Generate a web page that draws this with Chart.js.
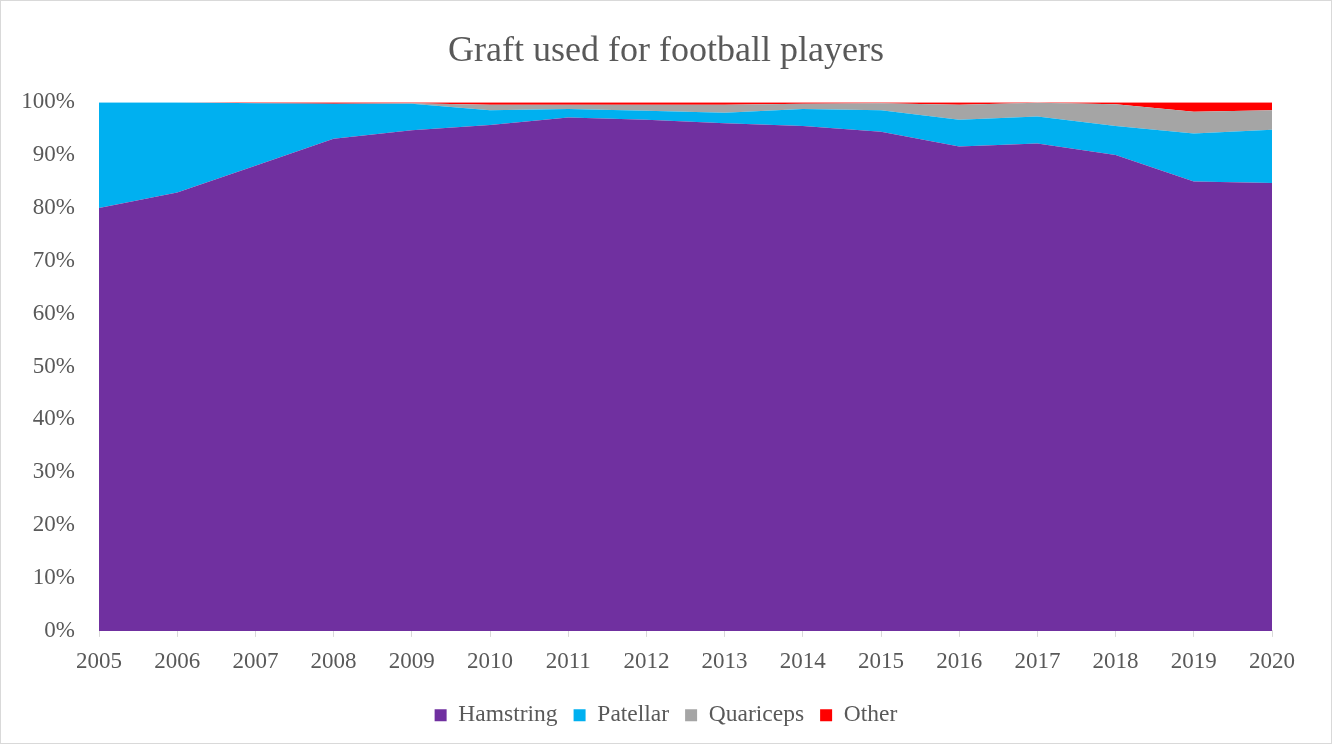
<!DOCTYPE html>
<html>
<head>
<meta charset="utf-8">
<script src="https://cdn.jsdelivr.net/npm/chart.js@4.4.1/dist/chart.umd.min.js"></script>
<style>
  html, body { margin: 0; padding: 0; background: #fff; }
  #wrap {
    position: absolute; left: 0; top: 0;
    width: 1330px; height: 742px;
    border: 1px solid #d9d9d9;
  }
</style>
</head>
<body>
<div id="wrap"><canvas id="chart"></canvas></div>
<script>
// Graft share per year (percent of total)
const years = ["2005", "2006", "2007", "2008", "2009", "2010", "2011", "2012",
               "2013", "2014", "2015", "2016", "2017", "2018", "2019", "2020"];
const hamstring  = [80.0, 82.9, 88.0, 93.1, 94.7, 95.7, 97.1, 96.7, 96.0, 95.5, 94.4, 91.6, 92.2, 90.0, 85.0, 84.7];
const patellar   = [20.0, 17.1, 11.8,  6.6,  5.0,  2.8,  1.6,  1.7,  2.0,  3.2,  4.1,  5.1,  5.1,  5.5,  9.1, 10.1];
const quariceps  = [ 0.0,  0.0,  0.0,  0.0,  0.1,  1.0,  0.8,  1.1,  1.5,  1.0,  1.3,  2.8,  2.6,  4.1,  4.1,  3.7];
const other      = [ 0.0,  0.0,  0.2,  0.3,  0.2,  0.5,  0.5,  0.5,  0.5,  0.3,  0.2,  0.5,  0.1,  0.4,  1.8,  1.5];

const TEXT = "#595959";
const FONT = "'Liberation Serif', 'Times New Roman', serif";

function area(label, data, color, fill) {
    return {
        label: label,
        data: data,
        backgroundColor: color,
        borderColor: color,
        borderWidth: 0,
        pointRadius: 0,
        pointHoverRadius: 0,
        tension: 0,
        fill: fill,
    };
}

new Chart(document.getElementById("chart"), {
    type: "line",
    data: {
        labels: years,
        datasets: [
            area("Hamstring", hamstring, "#7030a0", "origin"),
            area("Patellar",  patellar,  "#00b0f0", "-1"),
            area("Quariceps", quariceps, "#a5a5a5", "-1"),
            area("Other",     other,     "#ff0000", "-1"),
        ],
    },
    options: {
        responsive: true,
        maintainAspectRatio: false,
        animation: false,
        layout: { padding: { left: 0, right: 0, top: 29, bottom: 6 } },
        plugins: {
            title: {
                display: true,
                text: "Graft used for football players",
                color: TEXT,
                font: { family: FONT, size: 36, weight: "normal" },
                padding: { top: 0, bottom: 29 },
            },
            legend: {
                position: "bottom",
                labels: {
                    color: TEXT,
                    font: { family: FONT, size: 23.5 },
                    boxWidth: 12,
                    boxHeight: 12,
                    padding: 16,
                },
            },
            tooltip: { enabled: false },
        },
        scales: {
            x: {
                offset: false,
                grid: {
                    display: true,
                    drawOnChartArea: false,
                    drawTicks: true,
                    tickLength: 6,
                    color: "#d9d9d9",
                },
                border: { color: "#d9d9d9" },
                ticks: {
                    color: TEXT,
                    font: { family: FONT, size: 23 },
                    maxRotation: 0,
                    autoSkip: false,
                    padding: 11,
                },
                // a little room between the year labels and the legend
                afterFit: (scale) => { scale.height += 1; },
            },
            y: {
                stacked: true,
                min: 0,
                max: 100,
                grid: { display: false },
                border: { display: false },
                ticks: {
                    stepSize: 10,
                    color: TEXT,
                    font: { family: FONT, size: 23 },
                    padding: 16,
                    callback: (v) => v + "%",
                },
                afterFit: (scale) => { scale.width = 98; },
            },
            // empty right-hand axis, only reserves the white margin on the right
            yRight: {
                position: "right",
                min: 0,
                max: 100,
                grid: { display: false },
                border: { display: false },
                ticks: { display: false },
                afterFit: (scale) => { scale.width = 59; },
            },
        },
    },
});
</script>
</body>
</html>
